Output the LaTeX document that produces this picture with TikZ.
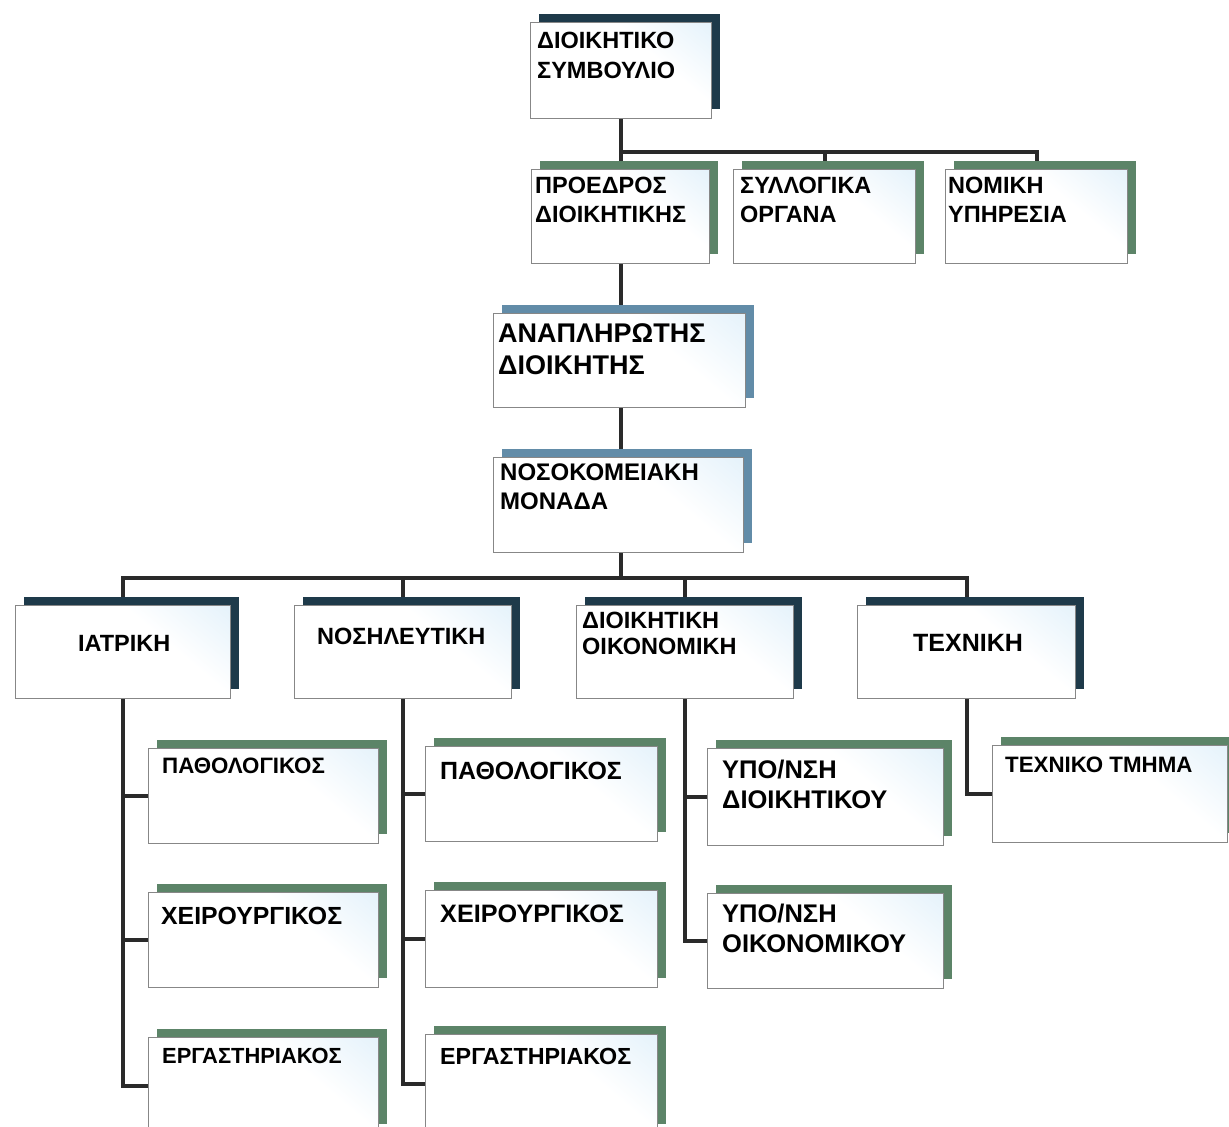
\documentclass[tikz,border=0pt]{standalone}
\usepackage{fontspec}
\setmainfont{Liberation Sans}
\definecolor{navysh}{RGB}{30,58,74}
\definecolor{steelsh}{RGB}{98,140,168}
\definecolor{greensh}{RGB}{92,132,104}
\definecolor{linec}{RGB}{42,42,42}
\definecolor{boxedge}{RGB}{135,135,135}
\definecolor{boxblue}{RGB}{212,234,248}
\pgfdeclareverticalshading{boxsh}{100bp}{color(0bp)=(white); color(62bp)=(white); color(100bp)=(boxblue)}
\pgfdeclarelayer{bg}
\pgfsetlayers{bg,main}
\newcommand\fz[2]{\fontsize{#1}{#2}\selectfont\bfseries}
\tikzset{
  conn/.style={line width=3.6pt, draw=linec},
  bx/.style={draw=boxedge, line width=1.4pt, inner sep=0pt, anchor=north west,
    shading=boxsh, shading angle=-40},
  lbl/.style={inner sep=0pt, anchor=north west, align=left, text=black}
}
% name, x1, y1, x2, y2, shadow colour
\newcommand\obox[6]{%
  \fill[#6] (#2+9,#3-8) rectangle (#4+9,#5-9);
  \node[bx, minimum width=#4-#2, minimum height=#5-#3] (#1) at (#2,#3) {};
}
\begin{document}
\begin{tikzpicture}[x=1pt,y=-1pt]
\useasboundingbox (0,0) rectangle (1229,1127);
\clip (0,0) rectangle (1229,1127);

% boxes
\obox{dsb}{530}{22}{711}{118}{navysh}
\node[lbl, font=\fz{23.5}{30}] (t-dsb) at (537,32) {ΔΙΟΙΚΗΤΙΚΟ\\ΣΥΜΒΟΥΛΙΟ};

\obox{pres}{531}{169}{709}{263}{greensh}
\node[lbl, font=\fz{23.5}{29}] (t-pres) at (535,177) {ΠΡΟΕΔΡΟΣ\\ΔΙΟΙΚΗΤΙΚΗΣ};
\obox{syl}{733}{169}{915}{263}{greensh}
\node[lbl, font=\fz{23.5}{29}] (t-syl) at (740,177) {ΣΥΛΛΟΓΙΚΑ\\ΟΡΓΑΝΑ};
\obox{nom}{945}{169}{1127}{263}{greensh}
\node[lbl, font=\fz{23.5}{29}] (t-nom) at (948,177) {ΝΟΜΙΚΗ\\ΥΠΗΡΕΣΙΑ};

\obox{anap}{493}{313}{745}{407}{steelsh}
\node[lbl, font=\fz{27}{32}] (t-anap) at (498,323) {ΑΝΑΠΛΗΡΩΤΗΣ\\ΔΙΟΙΚΗΤΗΣ};
\obox{nos}{493}{457}{743}{552}{steelsh}
\node[lbl, font=\fz{24}{29}] (t-nos) at (500,464) {ΝΟΣΟΚΟΜΕΙΑΚΗ\\ΜΟΝΑΔΑ};

\obox{iat}{15}{605}{230}{698}{navysh}
\node[lbl, font=\fz{23.5}{29}] (t-iat) at (78,635) {ΙΑΤΡΙΚΗ};
\obox{nosil}{294}{605}{511}{698}{navysh}
\node[lbl, font=\fz{23.5}{29}] (t-nosil) at (317,628) {ΝΟΣΗΛΕΥΤΙΚΗ};
\obox{dio}{576}{605}{793}{698}{navysh}
\node[lbl, font=\fz{23.5}{26}] (t-dio) at (582,612) {ΔΙΟΙΚΗΤΙΚΗ\\ΟΙΚΟΝΟΜΙΚΗ};
\obox{tech}{857}{605}{1075}{698}{navysh}
\node[lbl, font=\fz{25}{29}] (t-tech) at (913,634) {ΤΕΧΝΙΚΗ};

\obox{pat1}{148}{748}{378}{843}{greensh}
\node[lbl, font=\fz{22.3}{28}] (t-pat1) at (162,758) {ΠΑΘΟΛΟΓΙΚΟΣ};
\obox{xei1}{148}{892}{378}{987}{greensh}
\node[lbl, font=\fz{24.8}{28}] (t-xei1) at (161,907) {ΧΕΙΡΟΥΡΓΙΚΟΣ};
\obox{erg1}{148}{1037}{378}{1133}{greensh}
\node[lbl, font=\fz{21.9}{28}] (t-erg1) at (162,1048) {ΕΡΓΑΣΤΗΡΙΑΚΟΣ};

\obox{pat2}{425}{746}{657}{841}{greensh}
\node[lbl, font=\fz{24.9}{28}] (t-pat2) at (440,762) {ΠΑΘΟΛΟΓΙΚΟΣ};
\obox{xei2}{425}{890}{657}{987}{greensh}
\node[lbl, font=\fz{25.2}{28}] (t-xei2) at (440,905) {ΧΕΙΡΟΥΡΓΙΚΟΣ};
\obox{erg2}{425}{1034}{657}{1133}{greensh}
\node[lbl, font=\fz{23.3}{28}] (t-erg2) at (440,1048) {ΕΡΓΑΣΤΗΡΙΑΚΟΣ};

\obox{ypd}{707}{748}{943}{845}{greensh}
\node[lbl, font=\fz{25.5}{30}] (t-ypd) at (722,760) {ΥΠΟ/ΝΣΗ\\ΔΙΟΙΚΗΤΙΚΟΥ};
\obox{ypo}{707}{893}{943}{988}{greensh}
\node[lbl, font=\fz{25.5}{30}] (t-ypo) at (722,904) {ΥΠΟ/ΝΣΗ\\ΟΙΚΟΝΟΜΙΚΟΥ};

\obox{tt}{992}{745}{1227}{842}{greensh}
\node[lbl, font=\fz{22.3}{28}] (t-tt) at (1005,757) {ΤΕΧΝΙΚΟ ΤΜΗΜΑ};

% connectors (behind the boxes and shadows)
\begin{pgfonlayer}{bg}
\fill[white] (0,0) rectangle (1229,1127);
\draw[conn] (dsb.south) -- (dsb.south |- 0,152) -| (nom.north);
\draw[conn] (dsb.south |- 0,152) -- (dsb.south |- pres.north);
\draw[conn] (syl.north |- 0,152) -- (syl.north);
\draw[conn] (pres.south) -- (pres.south |- anap.north);
\draw[conn] (pres.south |- anap.south) -- (pres.south |- nos.north);
\draw[conn] (pres.south |- nos.south) -- (pres.south |- 0,578);
\draw[conn] (iat.north) |- (tech.north |- 0,578) -- (tech.north);
\draw[conn] (nosil.north |- 0,578) -- (nosil.north);
\draw[conn] (dio.north |- 0,578) -- (dio.north);
% medical
\draw[conn] (iat.south) |- (erg1.west);
\draw[conn] (iat.south |- pat1.west) -- (pat1.west);
\draw[conn] (iat.south |- xei1.west) -- (xei1.west);
% nursing
\draw[conn] (nosil.south) |- (erg2.west);
\draw[conn] (nosil.south |- pat2.west) -- (pat2.west);
\draw[conn] (nosil.south |- xei2.west) -- (xei2.west);
% administrative
\draw[conn] (dio.south) |- (ypo.west);
\draw[conn] (dio.south |- ypd.west) -- (ypd.west);
% technical
\draw[conn] (tech.south) |- (tt.west);
\end{pgfonlayer}
\end{tikzpicture}
\end{document}
